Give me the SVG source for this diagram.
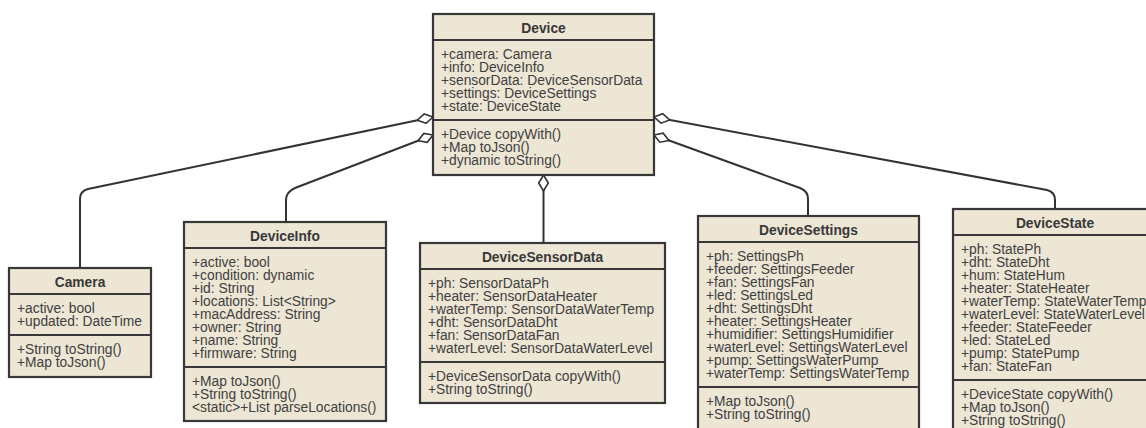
<svg xmlns="http://www.w3.org/2000/svg" width="1146" height="428" viewBox="0 0 1146 428">
<style>
.box{fill:#ede6d5;stroke:#383838;stroke-width:2.2}
.div{stroke:#383838;stroke-width:2.2}
.t{font-family:"Liberation Sans",Arial,sans-serif;font-size:13.8px;fill:#404040}
.h{font-weight:bold;text-anchor:middle;fill:#383838}
.c{fill:none;stroke:#333;stroke-width:2}
</style>
<defs>
<marker id="dia" markerUnits="userSpaceOnUse" markerWidth="19" markerHeight="12" viewBox="0 0 19 12" refX="1" refY="6" orient="auto">
<path d="M1,6 L9,1.2 L17,6 L9,10.8 Z" fill="#fff" stroke="#333" stroke-width="1.6"/>
</marker>
</defs>
<rect width="1146" height="428" fill="#fff"/>

<g id="Device">
<rect class="box" x="433" y="14" width="221" height="161"/>
<line class="div" x1="433" y1="40" x2="654" y2="40"/>
<line class="div" x1="433" y1="120" x2="654" y2="120"/>
<text class="t h" x="543.5" y="32.5">Device</text>
<text class="t" x="441" y="58.5">+camera: Camera</text>
<text class="t" x="441" y="71.5">+info: DeviceInfo</text>
<text class="t" x="441" y="84.5">+sensorData: DeviceSensorData</text>
<text class="t" x="441" y="97.5">+settings: DeviceSettings</text>
<text class="t" x="441" y="110.5">+state: DeviceState</text>
<text class="t" x="441" y="138.5">+Device copyWith()</text>
<text class="t" x="441" y="151.5">+Map toJson()</text>
<text class="t" x="441" y="164.5">+dynamic toString()</text>
</g>

<g id="Camera">
<rect class="box" x="9" y="268" width="142" height="109"/>
<line class="div" x1="9" y1="294" x2="151" y2="294"/>
<line class="div" x1="9" y1="335" x2="151" y2="335"/>
<text class="t h" x="80" y="286.5">Camera</text>
<text class="t" x="17" y="312.5">+active: bool</text>
<text class="t" x="17" y="325.5">+updated: DateTime</text>
<text class="t" x="17" y="353.5">+String toString()</text>
<text class="t" x="17" y="366.5">+Map toJson()</text>
</g>

<g id="DeviceInfo">
<rect class="box" x="184" y="222" width="202" height="199"/>
<line class="div" x1="184" y1="248" x2="386" y2="248"/>
<line class="div" x1="184" y1="367" x2="386" y2="367"/>
<text class="t h" x="285" y="240.5">DeviceInfo</text>
<text class="t" x="192" y="266.5">+active: bool</text>
<text class="t" x="192" y="279.5">+condition: dynamic</text>
<text class="t" x="192" y="292.5">+id: String</text>
<text class="t" x="192" y="305.5">+locations: List&lt;String&gt;</text>
<text class="t" x="192" y="318.5">+macAddress: String</text>
<text class="t" x="192" y="331.5">+owner: String</text>
<text class="t" x="192" y="344.5">+name: String</text>
<text class="t" x="192" y="357.5">+firmware: String</text>
<text class="t" x="192" y="385.5">+Map toJson()</text>
<text class="t" x="192" y="398.5">+String toString()</text>
<text class="t" x="192" y="411.5">&lt;static&gt;+List parseLocations()</text>
</g>

<g id="DeviceSensorData">
<rect class="box" x="420" y="243" width="245" height="160"/>
<line class="div" x1="420" y1="269" x2="665" y2="269"/>
<line class="div" x1="420" y1="362" x2="665" y2="362"/>
<text class="t h" x="542.5" y="261.5">DeviceSensorData</text>
<text class="t" x="428" y="287.5">+ph: SensorDataPh</text>
<text class="t" x="428" y="300.5">+heater: SensorDataHeater</text>
<text class="t" x="428" y="313.5">+waterTemp: SensorDataWaterTemp</text>
<text class="t" x="428" y="326.5">+dht: SensorDataDht</text>
<text class="t" x="428" y="339.5">+fan: SensorDataFan</text>
<text class="t" x="428" y="352.5">+waterLevel: SensorDataWaterLevel</text>
<text class="t" x="428" y="380.5">+DeviceSensorData copyWith()</text>
<text class="t" x="428" y="393.5">+String toString()</text>
</g>

<g id="DeviceSettings">
<rect class="box" x="698" y="216" width="221" height="216"/>
<line class="div" x1="698" y1="242" x2="919" y2="242"/>
<line class="div" x1="698" y1="387" x2="919" y2="387"/>
<text class="t h" x="808.5" y="234.5">DeviceSettings</text>
<text class="t" x="706" y="260.5">+ph: SettingsPh</text>
<text class="t" x="706" y="273.5">+feeder: SettingsFeeder</text>
<text class="t" x="706" y="286.5">+fan: SettingsFan</text>
<text class="t" x="706" y="299.5">+led: SettingsLed</text>
<text class="t" x="706" y="312.5">+dht: SettingsDht</text>
<text class="t" x="706" y="325.5">+heater: SettingsHeater</text>
<text class="t" x="706" y="338.5">+humidifier: SettingsHumidifier</text>
<text class="t" x="706" y="351.5">+waterLevel: SettingsWaterLevel</text>
<text class="t" x="706" y="364.5">+pump: SettingsWaterPump</text>
<text class="t" x="706" y="377.5">+waterTemp: SettingsWaterTemp</text>
<text class="t" x="706" y="405.5">+Map toJson()</text>
<text class="t" x="706" y="418.5">+String toString()</text>
</g>

<g id="DeviceState">
<rect class="box" x="953" y="209" width="204" height="226"/>
<line class="div" x1="953" y1="235" x2="1157" y2="235"/>
<line class="div" x1="953" y1="380" x2="1157" y2="380"/>
<text class="t h" x="1055" y="227.5">DeviceState</text>
<text class="t" x="961" y="253.5">+ph: StatePh</text>
<text class="t" x="961" y="266.5">+dht: StateDht</text>
<text class="t" x="961" y="279.5">+hum: StateHum</text>
<text class="t" x="961" y="292.5">+heater: StateHeater</text>
<text class="t" x="961" y="305.5">+waterTemp: StateWaterTemp</text>
<text class="t" x="961" y="318.5">+waterLevel: StateWaterLevel</text>
<text class="t" x="961" y="331.5">+feeder: StateFeeder</text>
<text class="t" x="961" y="344.5">+led: StateLed</text>
<text class="t" x="961" y="357.5">+pump: StatePump</text>
<text class="t" x="961" y="370.5">+fan: StateFan</text>
<text class="t" x="961" y="398.5">+DeviceState copyWith()</text>
<text class="t" x="961" y="411.5">+Map toJson()</text>
<text class="t" x="961" y="424.5">+String toString()</text>
</g>

<g id="connectors">
<path class="c" marker-start="url(#dia)" d="M433,117 L88,189 Q80,191 80,199 L80,268"/>
<path class="c" marker-start="url(#dia)" d="M433,135 L295,188 Q286,192 286,200 L286,222"/>
<path class="c" marker-start="url(#dia)" d="M543.5,175 L543.5,243"/>
<path class="c" marker-start="url(#dia)" d="M654,135 L800,188 Q808,191 808,199 L808,216"/>
<path class="c" marker-start="url(#dia)" d="M654,117 L1047,190 Q1055,192 1055,200 L1055,209"/>
</g>
</svg>
